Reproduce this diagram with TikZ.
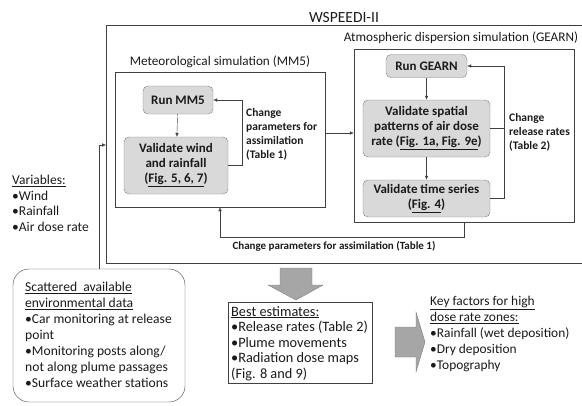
\documentclass[tikz,border=0pt]{standalone}
\usepackage{fontspec}
\setmainfont{Carlito}
\usetikzlibrary{arrows.meta, positioning, calc}
\definecolor{boxgray}{HTML}{D9D9D9}
\definecolor{edgegray}{HTML}{7F7F7F}
\definecolor{linegray}{HTML}{404040}
\definecolor{bigarrow}{HTML}{A6A6A6}
\definecolor{inkgray}{HTML}{1A1A1A}
\tikzstyle{step box}=[draw=edgegray, fill=boxgray, rounded corners=5pt, align=center, inner sep=1pt, font=\fontsize{13}{15}\selectfont\bfseries]
\tikzstyle{frame}=[draw=linegray, minimum width=0pt, inner sep=0pt]
\tikzstyle{txt}=[align=left, inner sep=0pt, anchor=north west]
\tikzstyle{change}=[txt, font=\fontsize{11.5}{14}\selectfont\bfseries]
\tikzstyle{arr}=[-{Latex[length=4pt,width=3.5pt]}]
\tikzstyle{fat arrow}=[draw=edgegray, fill=bigarrow]
\newcommand{\bul}{\textbullet}
\begin{document}
\begin{tikzpicture}[x=1pt, y=-1pt, thin, draw=linegray, text=inkgray, font=\fontsize{13.2}{15.5}\selectfont]
\useasboundingbox (0,0) rectangle (582,405);
% WSPEEDI-II frame (open on the right)
\node (title) at (344,18) {\fontsize{15.5}{18}\selectfont WSPEEDI-II};
\coordinate (wsl) at (106,145);
\draw (582,25) -- (106,25) -- (106,263) -- (582,263);
% MM5 part
\node [frame, minimum width=210pt, minimum height=135pt] (mm5) at (220,139.5){};
\node (mm5t) at (220,62) {Meteorological simulation (MM5)};
\node [step box, minimum width=70pt, minimum height=28pt] (runmm5) at (178,100) {Run MM5};
\node [step box, minimum width=104pt, minimum height=57pt] (valwind) at (176,165.5) {Validate wind\\and rainfall\\(\underline{Fig. 5, 6, 7})};
\coordinate (fbm) at (242,100);
\draw [arr] (runmm5) -- (valwind);
\draw [arr] (valwind.east) -| (fbm) -- (runmm5.east);
\node [change] (chgm) at (246,108) {Change\\parameters for\\assimilation\\(Table 1)};
% GEARN part
\node [frame, minimum width=220pt, minimum height=173pt] (gearn) at (464,135.5){};
\node (gearnt) at (461,38) {Atmospheric dispersion simulation (GEARN)};
\node [step box, minimum width=81pt, minimum height=23pt] (rungearn) at (426.5,66) {Run GEARN};
\node [step box, minimum width=127pt, minimum height=57pt] (valsp) at (426.5,128.5) {Validate spatial\\patterns of air dose\\rate (\underline{Fig. 1a, Fig. 9e})};
\node [step box, minimum width=127pt, minimum height=37pt] (valts) at (426.5,198.5) {Validate time series\\(\underline{Fig. 4})};
\coordinate (fbg) at (504,66);
\draw [arr] (rungearn) -- (valsp);
\draw [arr] (valsp) -- (valts);
\draw [arr] (valts.east) -| (fbg) -- (rungearn.east);
\draw (valsp.east) -- (valsp.east -| fbg);
\node [change] (chgg) at (509,113) {Change\\release rates\\(Table 2)};
% links between the two models
\coordinate (m2g) at (325,133);
\coordinate (fbb) at (0,237);
\draw [arr] (m2g) -- (m2g -| gearn.west);
\draw [arr] (gearn.south) -- (gearn.south |- fbb) -| (mm5.south);
\node (chgb) at (334,246) {\fontsize{11}{13}\selectfont\bfseries Change parameters for assimilation (Table 1)};
% inputs
\node [txt, font=\fontsize{13.5}{15.7}\selectfont] (vars) at (12,175) {\underline{Variables:}\\\bul Wind\\\bul Rainfall\\\bul Air dose rate};
\node [draw=linegray, rounded corners=16pt, minimum width=172pt, minimum height=133pt] (scat) at (99,335.5){};
\node [txt, font=\fontsize{13.6}{16}\selectfont] (scatt) at (25,282) {\underline{Scattered\ \ available}\\\underline{environmental data}\\\bul Car monitoring at release\\point\\\bul Monitoring posts along/\\not along plume passages\\\bul Surface weather stations};
\draw [arr] (scat.north) |- (wsl);
% outputs
\draw [fat arrow] (280,268) -- (312,268) -- (312,285) -- (323,285) -- (296,300) -- (268,285) -- (280,285) -- cycle;
\node [draw=linegray, minimum width=144pt, minimum height=81pt] (best) at (300,342.5){};
\node [txt, font=\fontsize{14.3}{15.5}\selectfont] (bestt) at (231,306) {\underline{Best estimates:}\\\bul Release rates (Table 2)\\\bul Plume movements\\\bul Radiation dose maps\\(Fig. 8 and 9)};
\draw [fat arrow] (395,327) -- (416,327) -- (416,312) -- (425,342) -- (416,372) -- (416,357) -- (395,357) -- cycle;
\node [txt, font=\fontsize{13.4}{16}\selectfont] (keyt) at (430,296) {\underline{Key factors for high}\\\underline{dose rate zones:}\\\bul Rainfall (wet deposition)\\\bul Dry deposition\\\bul Topography};
\end{tikzpicture}
\end{document}
